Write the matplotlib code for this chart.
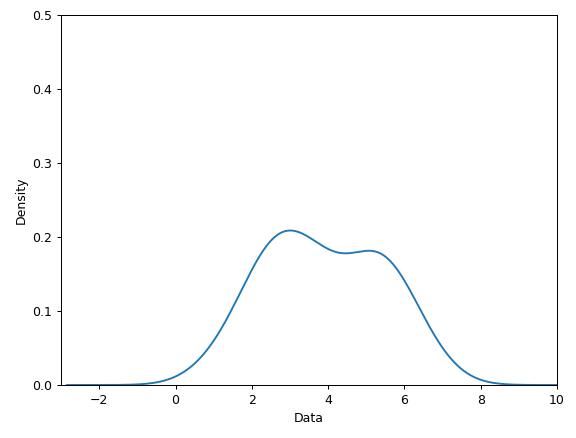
import numpy as np
import matplotlib
matplotlib.use("Agg")
import matplotlib.pyplot as plt

# amostra usada para a estimativa de densidade
dados = [1.2, 1.9, 2.4, 2.5, 2.6, 2.6, 2.6, 3.2, 3.7, 3.7,
         3.7, 3.8, 4.8, 5.2, 5.2, 5.2, 5.4, 5.7, 6.0, 6.5]

# kde gaussiana com largura de banda de Scott (como no pandas)
def kde(amostra, x):
    amostra = np.asarray(amostra)
    n = len(amostra)
    h = amostra.std(ddof=1) * n ** (-0.2)
    z = (x[:, None] - amostra[None, :]) / h
    return np.exp(-0.5 * z ** 2).sum(axis=1) / (n * h * np.sqrt(2 * np.pi))

x = np.linspace(-2.85, 10.5, 1000)
densidade = kde(dados, x)

fig, ax = plt.subplots(figsize=(6.4, 4.867), dpi=90)
fig.subplots_adjust(left=0.106, right=0.967, top=0.966, bottom=0.121)
ax.plot(x, densidade, color='#1f77b4', linewidth=1.5)
ax.set_xlim(-3, 10)
ax.set_ylim(0, 0.5)
ax.set_xlabel("Data")
ax.set_ylabel("Density")
fig.savefig("out.png")
